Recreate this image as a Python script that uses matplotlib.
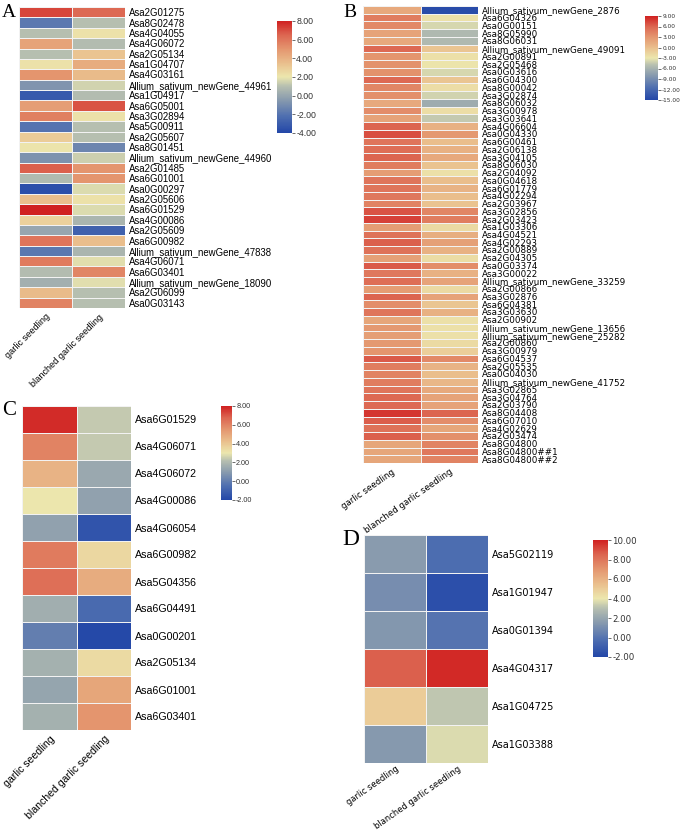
import numpy as np
import matplotlib
matplotlib.use("Agg")
import matplotlib.pyplot as plt
from matplotlib.colors import LinearSegmentedColormap
from matplotlib.ticker import FormatStrFormatter
from matplotlib.transforms import ScaledTranslation

# -----------------------------
# DATA
# -----------------------------
samples = ["garlic seedling", "blanched garlic seedling"]

genes_a = ["Asa2G01275", "Asa8G02478", "Asa4G04055", "Asa4G06072", "Asa2G05134",
           "Asa1G04707", "Asa4G03161", "Allium_sativum_newGene_44961", "Asa1G04917",
           "Asa6G05001", "Asa3G02894", "Asa5G00911", "Asa2G05607", "Asa8G01451",
           "Allium_sativum_newGene_44960", "Asa2G01485", "Asa6G01001", "Asa0G00297",
           "Asa2G05606", "Asa6G01529", "Asa4G00086", "Asa2G05609", "Asa6G00982",
           "Allium_sativum_newGene_47838", "Asa4G06071", "Asa6G03401",
           "Allium_sativum_newGene_18090", "Asa2G06099", "Asa0G03143"]
gs_a = [7.2, -1.8, 1.0, 4.5, 1.0, 2.2, 5.0, -0.7, -3.2, 4.7, 5.7, -2.0, 3.0, 2.1, -0.8,
        6.6, 0.8, -3.6, 3.5, 8.0, 2.8, 0.0, 6.0, -1.8, 5.8, 0.9, 0.4, 3.6, 5.6]
bgs_a = [6.4, 1.0, 2.2, 0.9, 3.3, 4.2, 3.6, 1.5, 0.9, 6.9, 2.2, 1.0, 1.0, -1.3, 1.4,
         5.0, 5.0, 1.7, 2.2, 1.7, 0.6, -2.8, 3.5, 0.6, 1.8, 5.5, 1.8, 1.0, 1.0]

genes_b = ["Allium_sativum_newGene_2876", "Asa6G04326", "Asa0G00151", "Asa8G05990",
           "Asa8G06031", "Allium_sativum_newGene_49091", "Asa2G00891", "Asa2G05468",
           "Asa0G03616", "Asa6G04300", "Asa8G00042", "Asa3G02874", "Asa8G06032",
           "Asa3G00978", "Asa3G03641", "Asa4G06604", "Asa0G04330", "Asa6G00461",
           "Asa2G06138", "Asa3G04105", "Asa8G06030", "Asa2G04092", "Asa0G04618",
           "Asa6G01779", "Asa4G02294", "Asa2G03967", "Asa3G02856", "Asa2G03423",
           "Asa1G03306", "Asa4G04521", "Asa4G02293", "Asa2G00889", "Asa2G04305",
           "Asa0G03374", "Asa3G00022", "Allium_sativum_newGene_33259", "Asa2G00866",
           "Asa3G02876", "Asa6G04381", "Asa3G03630", "Asa2G00902",
           "Allium_sativum_newGene_13656", "Allium_sativum_newGene_25282", "Asa2G00860",
           "Asa3G00979", "Asa6G04537", "Asa2G05535", "Asa0G04030",
           "Allium_sativum_newGene_41752", "Asa3G02865", "Asa3G04764", "Asa2G03790",
           "Asa8G04408", "Asa6G07010", "Asa4G02629", "Asa2G03474", "Asa8G04800",
           "Asa8G04800##1", "Asa8G04800##2"]
gs_b = [1.5, 4.5, 3.8, 2.0, 1.5, 5.8, 3.0, 3.2, 3.2, 5.8, 4.0, 3.3, 1.5, 3.5, 2.0,
        6.0, 7.0, 5.0, 5.5, 6.0, 4.5, 2.5, 5.0, 5.0, 4.8, 4.2, 6.8, 7.5, 2.5, 5.2,
        6.2, 5.2, 2.2, 6.5, 4.8, 5.5, 2.5, 6.0, 3.5, 5.0, 1.8, 2.8, 2.3, 2.8, 3.0,
        6.5, 4.5, 4.2, 4.5, 5.0, 5.8, 5.8, 8.0, 6.3, 5.2, 6.2, 1.8, 1.8, 1.8]
bgs_b = [-14.5, -2.5, -3.8, -5.5, -5.5, -0.5, -2.5, -2.8, -3.8, -0.5, -2.3, -4.0, -6.5,
         -2.3, -4.5, 1.0, 2.8, 0.0, 1.0, 1.5, -0.3, -2.5, 0.0, 0.8, 0.0, -0.3, 4.0,
         4.5, -2.0, 1.2, 2.2, 1.0, -2.2, 3.5, 1.0, 2.0, -2.0, 2.0, -0.5, 1.0, -2.5,
         -2.5, -2.5, -2.0, -1.2, 3.8, 0.8, 0.0, 0.5, 1.5, 2.0, 2.0, 6.0, 3.5, 1.8,
         3.3, 4.2, 4.8, 4.2]

genes_c = ["Asa6G01529", "Asa4G06071", "Asa4G06072", "Asa4G00086", "Asa4G06054",
           "Asa6G00982", "Asa5G04356", "Asa6G04491", "Asa0G00201", "Asa2G05134",
           "Asa6G01001", "Asa6G03401"]
gs_c = [7.8, 6.0, 4.6, 3.0, 1.2, 6.2, 6.5, 1.6, 0.0, 1.7, 1.3, 1.7]
bgs_c = [2.4, 2.4, 1.4, 1.2, -1.5, 3.5, 4.8, -0.7, -1.9, 3.4, 5.0, 5.5]

genes_d = ["Asa5G02119", "Asa1G01947", "Asa0G01394", "Asa4G04317", "Asa1G04725",
           "Asa1G03388"]
gs_d = [1.6, 1.0, 1.4, 8.6, 5.0, 1.5]
bgs_d = [-0.3, -1.6, 0.0, 9.8, 3.2, 3.7]

# -----------------------------
# STYLE
# -----------------------------
W, H = 685, 833
cmap = LinearSegmentedColormap.from_list("garlic", [
    (0.00, "#2347a8"), (0.15, "#4f6fb0"), (0.30, "#8a9cae"), (0.42, "#b8c0b0"),
    (0.50, "#ece7ae"), (0.62, "#eac08e"), (0.75, "#e4966f"), (0.88, "#dc6450"),
    (1.00, "#d02020")])

fig = plt.figure(figsize=(W / 100, H / 100), dpi=100)


def px_axes(x0, y0, x1, y1):
    return fig.add_axes([x0 / W, 1 - y1 / H, (x1 - x0) / W, (y1 - y0) / H])


def panel(box, cbox, genes, gs, bgs, vmin, vmax, step, font, fs, xfs, rot, dx,
          cfs, letter, lpos, lfs, xpad=3):
    ax = px_axes(*box)
    vals = np.column_stack([gs, bgs])
    mesh = ax.pcolormesh(vals, cmap=cmap, vmin=vmin, vmax=vmax,
                         edgecolors="#f2f2f2", linewidth=0.7)
    ax.set_xlim(0, 2)
    ax.set_ylim(len(genes), 0)
    for s in ax.spines.values():
        s.set_visible(False)
    ax.yaxis.tick_right()
    ax.set_yticks(np.arange(len(genes)) + 0.5)
    ax.set_yticklabels(genes, fontsize=fs, family=font)
    ax.set_xticks([0.5, 1.5])
    ax.set_xticklabels(samples, fontsize=xfs, family=font, rotation=rot,
                       ha="right", va="top", rotation_mode="anchor")
    for lab in ax.get_xticklabels():
        lab.set_transform(lab.get_transform() +
                          ScaledTranslation(dx / 100, 0, fig.dpi_scale_trans))
    ax.tick_params(axis="y", length=0, pad=3)
    ax.tick_params(axis="x", length=0, pad=xpad)

    cax = px_axes(*cbox)
    cb = fig.colorbar(mesh, cax=cax, ticks=np.arange(vmin, vmax + 0.01, step))
    cb.outline.set_visible(False)
    cax.yaxis.set_major_formatter(FormatStrFormatter("%.2f"))
    cax.tick_params(length=2, width=0.5, labelsize=cfs, pad=1,
                    colors="#333333")
    for t in cax.get_yticklabels():
        t.set_family(font)

    fig.text(lpos[0] / W, 1 - lpos[1] / H, letter, family="Liberation Serif",
             fontsize=lfs, ha="left", va="baseline")


panel((19, 7, 125, 308), (277, 21, 292, 133), genes_a, gs_a, bgs_a, -4, 8, 2,
      "Liberation Sans", 6.9, 6.6, 45, 12, 6.3, "A", (2, 17), 14)
panel((363, 6, 478, 463), (645, 16, 658, 100), genes_b, gs_b, bgs_b, -15, 9, 3,
      "DejaVu Sans", 6.3, 6.2, 35, 7, 4.2, "B", (343, 17), 14)
panel((22, 406, 131, 730), (221, 406, 232, 500), genes_c, gs_c, bgs_c, -2, 8, 2,
      "Liberation Sans", 7.7, 7.6, 45, 8, 5.2, "C", (2, 415), 15)
panel((364, 535, 488, 763), (593, 540, 608, 657), genes_d, gs_d, bgs_d, -2, 10, 2,
      "DejaVu Sans", 7.0, 6.0, 35, 8, 6.2, "D", (342, 545), 17, xpad=1)

fig.savefig("out.png", dpi=100)
